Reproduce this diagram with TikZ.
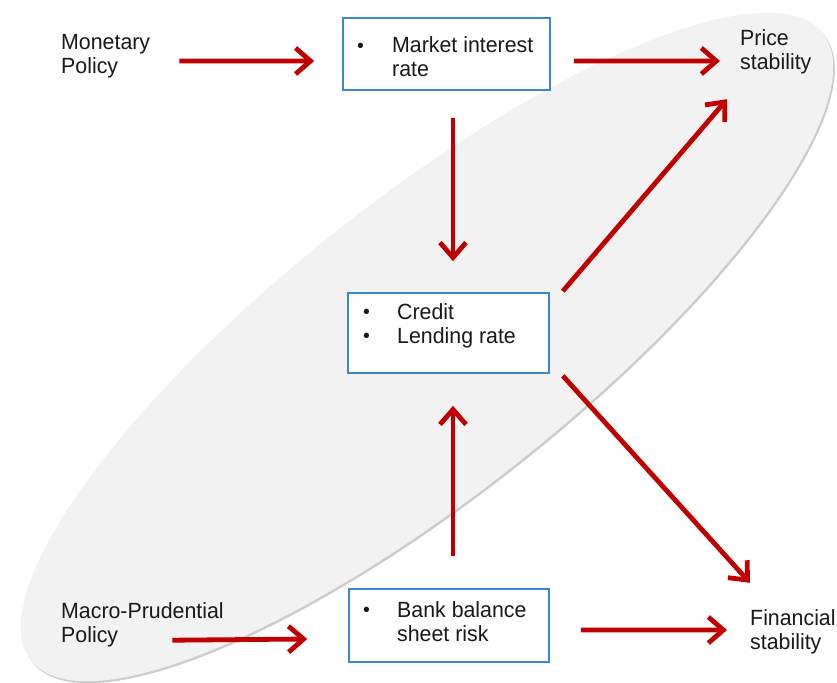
\documentclass[tikz,border=0pt]{standalone}
\usepackage{fontspec}
\setmainfont{Liberation Sans}[FakeStretch=0.97]
\usetikzlibrary{arrows.meta,calc,shapes.geometric}
\definecolor{arrred}{HTML}{C00000}
\definecolor{boxblue}{HTML}{3A87D0}
\definecolor{ellfill}{HTML}{F2F2F2}
\newcommand{\bul}{\raisebox{0.5pt}{\fontsize{20}{20}\selectfont\textbullet}}
\begin{document}
\begin{tikzpicture}[x=1pt,y=-1pt,
  lbl/.style={inner sep=0pt, anchor=base west, text=black!90, font=\fontsize{22}{24}\selectfont},
  box/.style={draw=boxblue, line width=1.6pt, fill=white, rectangle, inner sep=0pt},
  arr/.style={draw=arrred, line width=4.8pt, -{Straight Barb[length=15pt,width=26pt]}},
  ellbase/.style={ellipse, minimum width=1010pt, minimum height=294pt, inner sep=0pt, rotate=38.4, draw=none}]
\useasboundingbox (0,0) rectangle (837,682);
\fill[white] (0,0) rectangle (837,682);
% ellipse with soft shadow on lower right
\node[ellbase, fill=black!20] (ellsh) at (428.6,349) {};
\node[ellbase, fill=ellfill] (ell) at (427,347) {};
% boxes
\node[box, minimum width=207pt, minimum height=72pt] (mktbox) at (446.5,54) {};
\node[box, minimum width=201pt, minimum height=80pt] (credbox) at (448.5,333) {};
\node[box, minimum width=200pt, minimum height=73pt] (bankbox) at (449,625.5) {};
% texts
\node[lbl] (monT) at (61,49.5) {\begin{tabular}[t]{@{}l@{}}Monetary\\Policy\end{tabular}};
\node[lbl] (mktT) at (357,52.7) {\begin{tabular}[t]{@{}p{35pt}@{}l@{}}\bul & Market interest\\ & rate\end{tabular}};
\node[lbl] (priceT) at (740,46) {\begin{tabular}[t]{@{}l@{}}Price\\stability\end{tabular}};
\node[lbl] (credT) at (363,319.3) {\begin{tabular}[t]{@{}p{34pt}@{}l@{}}\bul & Credit\\ \bul & Lending rate\end{tabular}};
\node[lbl] (macroT) at (61,618) {\begin{tabular}[t]{@{}l@{}}Macro-Prudential\\Policy\end{tabular}};
\node[lbl] (bankT) at (363,617.3) {\begin{tabular}[t]{@{}p{34pt}@{}l@{}}\bul & Bank balance\\ & sheet risk\end{tabular}};
\node[lbl] (finT) at (750,625) {\begin{tabular}[t]{@{}l@{}}Financial\\stability\end{tabular}};
% arrows
\draw[arr] ($(monT.east)+(29,4.3)$) -- ($(mktbox.west)+(-28,7)$);
\draw[arr] ($(mktbox.east)+(23,7)$) -- ($(priceT.west)+(-20,7.8)$);
\draw[arr] ($(mktbox.south)+(6.5,27)$) -- ($(credbox.north)+(4.5,-31)$);
\draw[arr] ($(credbox.north east)+(13,-1)$) -- ($(priceT.south west)+(-13,21.8)$);
\draw[arr] ($(credbox.south east)+(13,2)$) -- ($(finT.north west)+(0,-25.2)$);
\draw[arr] ($(bankbox.north)+(4,-32)$) -- ($(credbox.south)+(4.5,32)$);
\draw[arr] ($(macroT.south)+(30,-9.2)$) -- ($(bankbox.west)+(-41,13.5)$);
\draw[arr] ($(bankbox.east)+(31,4.5)$) -- ($(finT.west)+(-23,-2.2)$);
\end{tikzpicture}
\end{document}
